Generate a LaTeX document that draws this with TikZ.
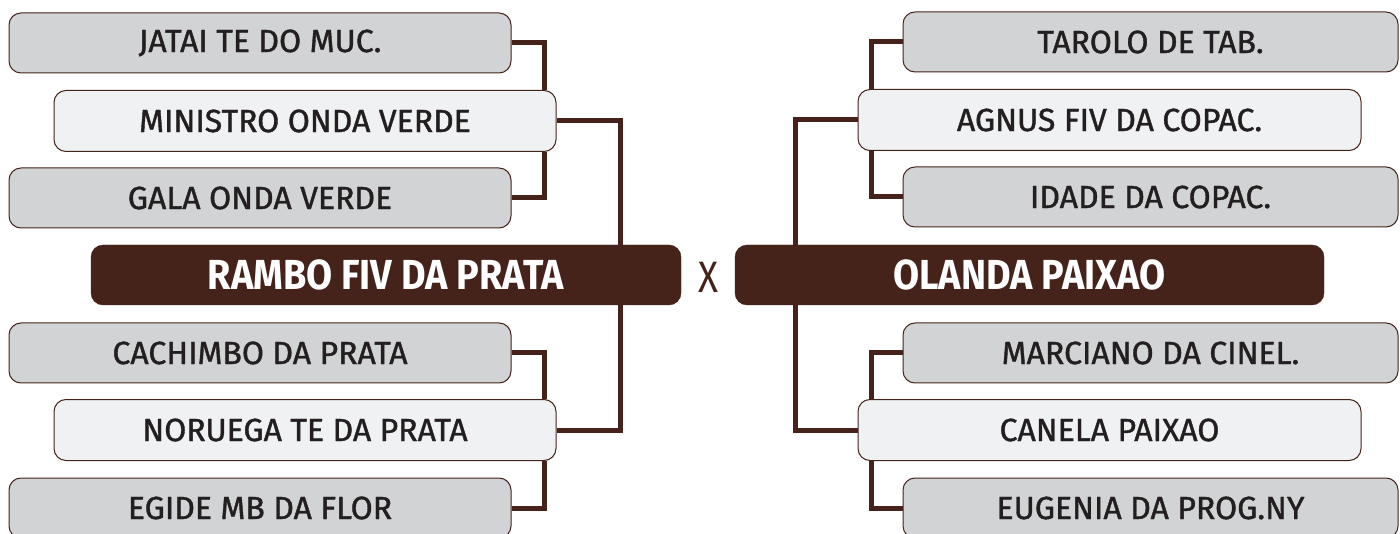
\documentclass[tikz,border=0pt]{standalone}
\usepackage{fontspec}
\setmainfont{Fira Sans}
\newfontfamily\labelfont{Fira Sans}[FakeBold=1.2]
\newfontfamily\headfont{Fira Sans}[FakeStretch=0.9]
\newfontfamily\vsfont{Fira Sans}[FakeStretch=0.84]
\definecolor{brn}{HTML}{45231A}
\definecolor{grayfill}{HTML}{D1D3D4}
\definecolor{lightfill}{HTML}{F0F1F3}
\definecolor{txt}{HTML}{231F20}
\tikzset{
  base/.style={rounded corners=12pt, draw=brn, line width=1pt, inner sep=0pt, text=txt, font=\labelfont\fontsize{32}{32}\selectfont},
  graybox/.style={base, fill=grayfill, minimum width=502pt, minimum height=60pt},
  lightbox/.style={base, fill=lightfill, minimum width=502pt, minimum height=61pt},
  rgraybox/.style={base, fill=grayfill, minimum width=495pt, minimum height=60pt},
  rlightbox/.style={base, fill=lightfill, minimum width=503pt, minimum height=61pt},
  mainbox/.style={rounded corners=12pt, fill=brn, draw=brn, inner sep=0pt, text=white, minimum width=590pt, minimum height=60pt, font=\headfont\fontsize{42}{42}\selectfont\bfseries},
  conn/.style={draw=brn, line width=5pt}
}
\begin{document}
\begin{tikzpicture}[x=1pt,y=-1pt]
\useasboundingbox (0,0) rectangle (1400,534);
\clip (0,0) rectangle (1400,534);
% left side
\node[graybox]  (jatai)    at (260,43)  {JATAI TE DO MUC.};
\node[lightbox] (ministro) at (305,121) {MINISTRO ONDA VERDE};
\node[graybox]  (gala)     at (260,198) {GALA ONDA VERDE};
\node[mainbox]  (rambo)    at (386,275) {RAMBO FIV DA PRATA};
\node[graybox]  (cachimbo) at (260,353) {CACHIMBO DA PRATA};
\node[lightbox] (noruega)  at (305,430) {NORUEGA TE DA PRATA};
\node[graybox]  (egide)    at (260,508) {EGIDE MB DA FLOR};
% right side
\node[rgraybox]  (tarolo)   at (1150.5,42)  {TAROLO DE TAB.};
\node[rlightbox] (agnus)    at (1109.5,120) {AGNUS FIV DA COPAC.};
\node[rgraybox]  (idade)    at (1150.5,197) {IDADE DA COPAC.};
\node[mainbox, minimum width=589pt] (olanda) at (1029.5,275) {OLANDA PAIXAO};
\node[rgraybox]  (marciano) at (1150.5,353) {MARCIANO DA CINEL.};
\node[rlightbox] (canela)   at (1109.5,430) {CANELA PAIXAO};
\node[rgraybox]  (eugenia)  at (1150.5,508) {EUGENIA DA PROG.NY};
% versus
\node[text=brn, inner sep=0pt, font=\vsfont\fontsize{44}{44}\selectfont] (vs) at (708,277) {X};
% helper columns
\coordinate (lv) at (544,0);
\coordinate (lo) at (620,0);
\coordinate (rv) at (871,0);
\coordinate (ro) at (795,0);
% left connectors
\draw[conn] (jatai.east) -| (ministro.north -| lv);
\draw[conn] (ministro.south -| lv) |- (gala.east);
\draw[conn] (ministro.east) -| (rambo.north -| lo);
\draw[conn] (rambo.south -| lo) |- (noruega.east);
\draw[conn] (cachimbo.east) -| (noruega.north -| lv);
\draw[conn] (noruega.south -| lv) |- (egide.east);
% right connectors
\draw[conn] (tarolo.west) -| (agnus.north -| rv);
\draw[conn] (agnus.south -| rv) |- (idade.west);
\draw[conn] (agnus.west) -| (olanda.north -| ro);
\draw[conn] (olanda.south -| ro) |- (canela.west);
\draw[conn] (marciano.west) -| (canela.north -| rv);
\draw[conn] (canela.south -| rv) |- (eugenia.west);
\end{tikzpicture}
\end{document}
